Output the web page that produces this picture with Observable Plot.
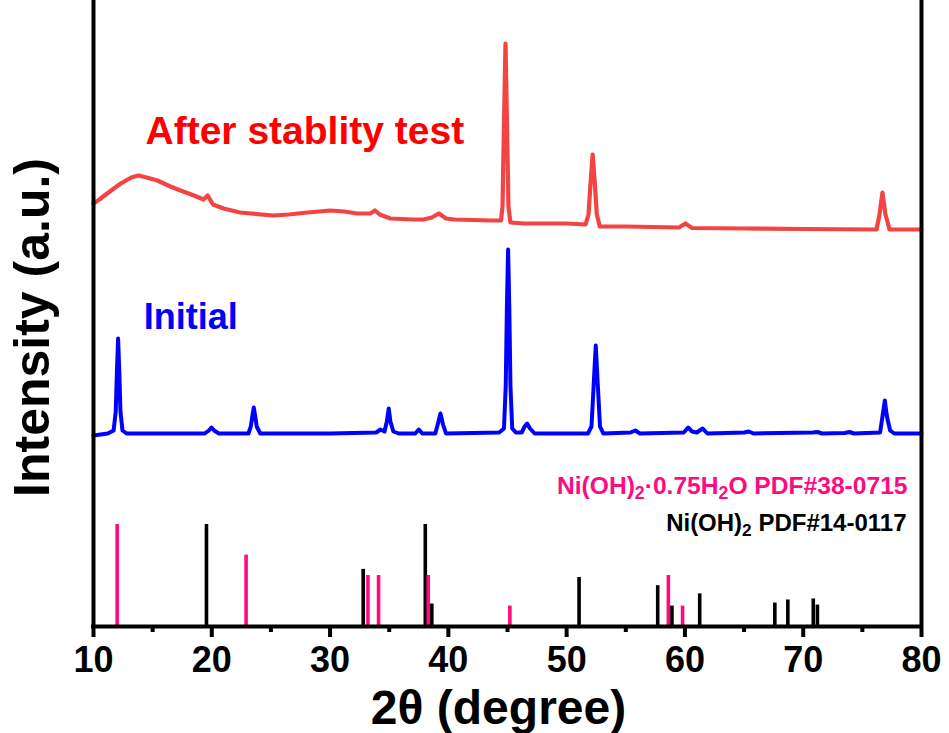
<!DOCTYPE html>
<html>
<head>
<meta charset="utf-8">
<script src="https://cdn.jsdelivr.net/npm/d3@7"></script>
<script src="https://cdn.jsdelivr.net/npm/@observablehq/plot@0.6"></script>
<style>
  body { margin: 0; background: #fff; }
  #chart { width: 949px; height: 733px; }
</style>
</head>
<body>
<div id="chart"></div>
<script>
// ---------- data ----------
const xTicks = [10, 20, 30, 40, 50, 60, 70, 80];
const xMinorTicks = [15, 25, 35, 45, 55, 65, 75];

// "Initial" pattern: 2θ (degree) and intensity (a.u., offset included)
const initialTheta = [10.0, 11.2, 11.7, 11.88, 11.98, 12.08, 12.18, 12.28, 12.45, 12.8,
  15.0, 19.4, 19.75, 19.97, 20.2, 20.6, 23.1, 23.3, 23.45, 23.55, 23.65, 23.8, 24.1,
  30.0, 33.9, 34.26, 34.6, 34.8, 34.96, 35.1, 35.35, 35.8, 37.2, 37.5, 37.8,
  38.9, 39.1, 39.33, 39.55, 39.8, 44.3, 44.7, 44.85, 44.95, 45.05, 45.15, 45.25, 45.4, 45.7,
  46.2, 46.45, 46.66, 46.9, 47.3, 51.8, 52.1, 52.28, 52.46, 52.64, 52.82, 53.1,
  55.4, 55.8, 56.2, 59.9, 60.27, 60.6, 61.0, 61.5, 61.9, 65.0, 65.4, 65.8,
  70.8, 71.2, 71.6, 73.5, 73.9, 74.3, 76.5, 76.7, 76.9, 77.05, 77.15, 77.35, 77.7, 80.0];
const initialIntensity = [191, 193, 196, 215, 255, 288, 255, 215, 196, 193,
  193, 193, 196, 199, 196, 193, 193, 200, 212, 219, 212, 200, 193,
  193, 194, 197, 195, 205, 218, 205, 195, 193, 193, 197, 193,
  193, 202, 213, 202, 193, 194, 198, 240, 320, 377, 320, 240, 198, 194,
  194, 200, 203, 198, 193, 193, 200, 240, 281, 240, 200, 193,
  194, 196, 193, 194, 199, 195, 194, 198, 193, 194, 195, 193,
  194, 194.5, 193, 193.5, 194.5, 193, 194, 210, 226, 212, 206, 196, 193, 193];

// "After stablity test" pattern
const afterTheta = [10.0, 10.5, 11.15, 12.3, 13.2, 13.8, 14.5, 15.4, 16.5, 17.35, 18.5,
  19.3, 19.65, 20.1, 21.0, 22.4, 23.3, 25.2, 26.5, 28.1, 30.0, 31.2, 32.3, 33.4, 33.8,
  34.2, 35.1, 37.0, 37.9, 38.6, 39.2, 39.8, 40.5, 43.6, 44.45, 44.58, 44.69, 44.83,
  44.97, 45.08, 45.25, 46.4, 50.0, 51.6, 51.85, 52.0, 52.2, 52.4, 52.55, 52.8, 55.0,
  59.5, 60.04, 60.6, 65.0, 70.0, 76.2, 76.45, 76.7, 76.95, 77.05, 77.3, 80.0];
const afterIntensity = [423, 427, 433, 443, 449, 451, 449, 446, 440, 436, 431,
  427, 431, 422, 418, 414, 413, 411, 412, 414, 416, 415, 413, 413, 416,
  412, 408, 407, 407, 409, 413, 408, 407, 406, 406, 420, 494, 583,
  494, 420, 404, 403, 403, 402, 412, 440, 472, 440, 412, 400, 400,
  399, 403, 398.5, 398, 397.5, 397, 412, 434, 412, 408, 397, 397];

// Standard cards: 2θ and relative intensity (%)
const pdf38Theta = [12.0, 22.9, 33.2, 34.1, 38.3, 45.2, 58.6, 59.8];
const pdf38Intensity = [100, 70, 50, 50, 50, 20, 50, 20];
const pdf14Theta = [19.55, 32.8, 38.05, 38.6, 51.05, 57.7, 58.9, 61.25, 67.6, 68.7, 70.85, 71.2];
const pdf14Intensity = [100, 56, 100, 22, 48, 40, 20, 32, 23, 26, 27, 21];

// ---------- build tables ----------
const initial = initialTheta.map((t, i) => ({theta: t, I: initialIntensity[i]}));
const after = afterTheta.map((t, i) => ({theta: t, I: afterIntensity[i]}));
const stickScale = 1.02; // 100 % -> stick height in a.u.
const pdf38 = pdf38Theta.map((t, i) => ({theta: t, I: pdf38Intensity[i] * stickScale}));
const pdf14 = pdf14Theta.map((t, i) => ({theta: t, I: pdf14Intensity[i] * stickScale}));

const FONT = "'Liberation Sans', Arial, Helvetica, sans-serif";
const RED_LINE = "#f44343";
const BLUE = "#0000ff";
const PINK = "#ff0a80";

const chart = Plot.plot({
  width: 949,
  height: 733,
  marginLeft: 93,
  marginRight: 28,
  marginTop: 0,
  marginBottom: 107,
  style: {fontFamily: FONT, background: "#fff", color: "#000"},
  x: {domain: [10, 80]},
  y: {domain: [0, 626], axis: null},
  marks: [
    // reference sticks
    Plot.ruleX(pdf14, {x: "theta", y1: 0, y2: "I", stroke: "#000", strokeWidth: 3.6}),
    Plot.ruleX(pdf38, {x: "theta", y1: 0, y2: "I", stroke: PINK, strokeWidth: 3.6}),
    // patterns
    Plot.line(initial, {x: "theta", y: "I", stroke: BLUE, strokeWidth: 4, strokeLinejoin: "round"}),
    Plot.line(after, {x: "theta", y: "I", stroke: RED_LINE, strokeWidth: 4.2, strokeLinejoin: "round"}),
    // frame (left, right, bottom)
    Plot.ruleX([10, 80], {stroke: "#000", strokeWidth: 4}),
    Plot.ruleY([0], {stroke: "#000", strokeWidth: 4, strokeLinecap: "square"}),
    // x axis ticks
    Plot.axisX({ticks: xTicks, tickSize: 11, tickPadding: 9, strokeWidth: 4, fontSize: 36,
      fontWeight: "bold", tickFormat: d => String(d), label: null}),
    Plot.axisX({ticks: xMinorTicks, tickSize: 6, strokeWidth: 4, tickFormat: () => "", label: null}),
    // axis titles
    Plot.text(["2θ (degree)"], {frameAnchor: "bottom", dx: -9, dy: 97.5, lineAnchor: "bottom",
      fontSize: 48, fontWeight: "bold", fill: "#000"}),
    Plot.text(["Intensity (a.u.)"], {frameAnchor: "left", dx: -45, dy: 14, rotate: -90,
      lineAnchor: "bottom", textAnchor: "middle", fontSize: 50, fontWeight: "bold", fill: "#000"}),
    // series labels
    Plot.text(["After stablity test"], {x: 14.4, y: 483, textAnchor: "start", lineAnchor: "bottom",
      fontSize: 39, fontWeight: "bold", fill: "#ff0000"}),
    Plot.text(["Initial"], {x: 14.25, y: 298, textAnchor: "start", lineAnchor: "bottom",
      fontSize: 36, fontWeight: "bold", fill: BLUE}),
    Plot.text(["Ni(OH)_2·0.75H_2O PDF#38-0715"], {x: 80, y: 133, dx: -14, textAnchor: "end",
      lineAnchor: "bottom", fontSize: 24.6, fontWeight: "bold", fill: PINK}),
    Plot.text(["Ni(OH)_2 PDF#14-0117"], {x: 80, y: 96, dx: -15, textAnchor: "end",
      lineAnchor: "bottom", fontSize: 24, fontWeight: "bold", fill: "#000"})
  ]
});

// subscripts: turn "_2" into real subscript tspans
chart.querySelectorAll("text").forEach(t => {
  const s = t.textContent;
  if (!s.includes("_")) return;
  const parts = s.split(/_(\d)/);
  while (t.firstChild) t.removeChild(t.firstChild);
  const ns = "http://www.w3.org/2000/svg";
  let shifted = false;
  parts.forEach((p, i) => {
    if (p === "") return;
    const sp = document.createElementNS(ns, "tspan");
    sp.textContent = p;
    if (i % 2 === 1) {
      sp.setAttribute("font-size", "0.72em");
      sp.setAttribute("dy", "0.3em");
      shifted = true;
    } else if (shifted) {
      sp.setAttribute("dy", "-0.216em");
      shifted = false;
    }
    t.appendChild(sp);
  });
});

document.getElementById("chart").appendChild(chart);
</script>
</body>
</html>
